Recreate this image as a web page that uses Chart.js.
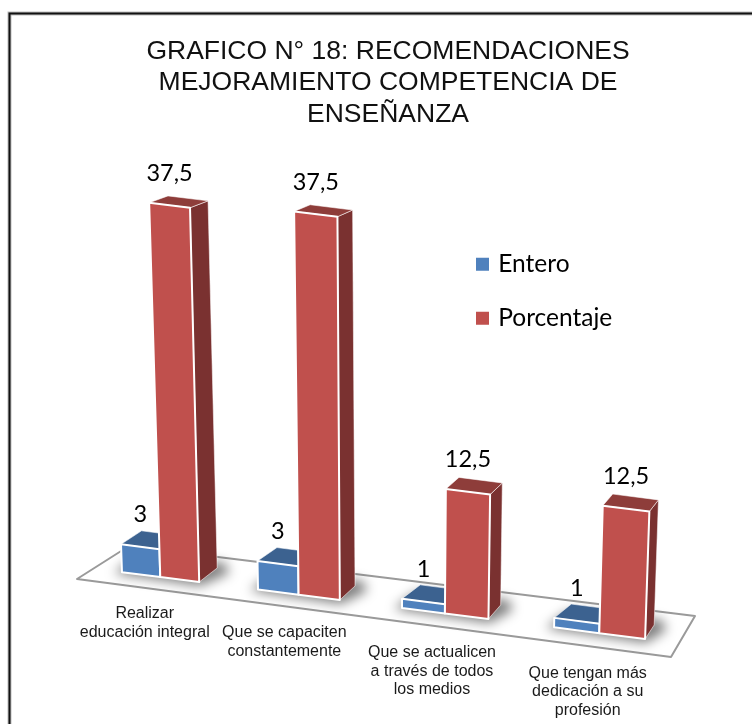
<!DOCTYPE html>
<html><head><meta charset="utf-8">
<style>html,body{margin:0;padding:0;background:#fff;overflow:hidden}#w{position:absolute;left:0;top:0;width:752px;height:724px}</style>
<script src="https://cdn.jsdelivr.net/npm/chart.js@4"></script>
</head><body><div id="w"><canvas id="c"></canvas></div>
<script>
const titleLines = ["GRAFICO N° 18: RECOMENDACIONES","MEJORAMIENTO COMPETENCIA DE","ENSEÑANZA"];
const categories = [["Realizar","educación integral"],["Que se capaciten","constantemente"],["Que se actualicen","a través de todos","los medios"],["Que tengan más","dedicación a su","profesión"]];
const enteroValues = [3,3,1,1];
const porcentajeValues = [37.5,37.5,12.5,12.5];

/* perspective of the slanted floor */
const PERSP = {A:370.75,B:146.33,C:4,Y0:577,X0:160,slope:.1278,units:[9.98,10.22,9.95,10.2],dsScale:[.93,1],leanK:.00013,leanC:388};
const shades = [{front:'#4F81BD',top:'#3C6290',side:'#335580'},{front:'#C0504D',top:'#8E3D3A',side:'#7A3130'}];

function warp(chart,x){
  const a=chart.chartArea,w=a.width/4,u=(x-(a.left+a.right)/2)/w;
  return PERSP.A+PERSP.B*u+PERSP.C*u*u;
}
const floorY=X=>PERSP.Y0+PERSP.slope*(X-PERSP.X0);
const P=(X,h)=>({x:X+h*PERSP.leanK*(X-PERSP.leanC),y:floorY(X)-h});
const depth=(ds,X,h)=>({x:ds?22-.02*X:21.5-.008*X,y:-14+.019*h});
const add=(p,d)=>({x:p.x+d.x,y:p.y+d.y});
function poly(ctx,pts){ctx.beginPath();pts.forEach((p,i)=>i?ctx.lineTo(p.x,p.y):ctx.moveTo(p.x,p.y));ctx.closePath();}
function geom(chart,ds,i){
  const el=chart.getDatasetMeta(ds).data[i];
  const yScale=chart.scales.y,k=PERSP.units[i]*PERSP.dsScale[ds]/((yScale.bottom-yScale.top)/yScale.max);
  const xl=warp(chart,el.x-el.width/2),xr=warp(chart,el.x+el.width/2),h=(el.base-el.y)*k;
  return {xl,xr,h};
}
const scene={
  id:'scene',
  beforeDraw(chart){
    const ctx=chart.ctx;
    ctx.save();
    ctx.strokeStyle='#bdbdbd';ctx.lineWidth=4;
    ctx.beginPath();ctx.moveTo(9.5,724);ctx.lineTo(9.5,13.5);ctx.lineTo(752,13.5);ctx.stroke();
    ctx.strokeStyle='#111';ctx.lineWidth=2;
    ctx.beginPath();ctx.moveTo(9.5,724);ctx.lineTo(9.5,13.5);ctx.lineTo(752,13.5);ctx.stroke();
    ctx.restore();
    /* slanted category labels, still the axis' own tick items */
    const sc=chart.scales.x;
    sc._computeLabelArea=()=>undefined;
    sc.getLabelItems(chart.chartArea).forEach((it,i)=>{
      const c=warp(chart,sc.getPixelForTick(i));
      const cX=c-15.5+.009*(c-160);
      it.options.translation=[cX,floorY(cX)+39+.006*(cX-145)];
      it.options.textBaseline='middle';it.options.textAlign='center';
      it.textOffset=0;
    });
  },
  afterLayout(chart){
    const l=chart.legend;l.left=449.5;l.top=222.5;l.right=752;l.bottom=724;
  },
  beforeDatasetsDraw(chart){
    const ctx=chart.ctx;
    ctx.save();
    poly(ctx,[{x:77,y:579},{x:671,y:657},{x:695,y:616},{x:129,y:546}]);
    ctx.fillStyle='#fff';ctx.fill();ctx.strokeStyle='#9A9A9A';ctx.lineWidth=2;ctx.lineJoin='round';ctx.stroke();
    ctx.filter='blur(6px)';ctx.fillStyle='rgba(0,0,0,.5)';
    categories.forEach((_,i)=>{
      const b=geom(chart,0,i),r=geom(chart,1,i);
      const d=depth(1,r.xr,0);
      const fl=P(b.xl,0),fr=P(r.xr,0),br=add(fr,d);
      poly(ctx,[{x:fl.x-8,y:fl.y+1},{x:fr.x+1,y:fr.y+4},{x:br.x+12,y:br.y+5},{x:br.x+8,y:br.y-5},{x:fl.x+14,y:fl.y-16}]);
      ctx.fill();
    });
    ctx.restore();
  },
  beforeDatasetDraw(){return false;},
  afterDatasetsDraw(chart){
    const ctx=chart.ctx;
    ctx.save();ctx.lineJoin='round';
    categories.forEach((_,i)=>{
      [0,1].forEach(ds=>{
        const {xl,xr,h}=geom(chart,ds,i),c=shades[ds];
        const d0=depth(ds,xr,0),dh=depth(ds,xr,h),dl=depth(ds,xl,h);
        const a=P(xl,0),b=P(xr,0),t=P(xr,h),s=P(xl,h);
        poly(ctx,[b,add(b,d0),add(t,dh),t]);ctx.fillStyle=c.side;ctx.fill();
        ctx.strokeStyle='rgba(255,255,255,.55)';ctx.lineWidth=1;ctx.stroke();
        poly(ctx,[s,t,add(t,dh),add(s,dl)]);ctx.fillStyle=c.top;ctx.fill();ctx.stroke();
        poly(ctx,[a,b,t,s]);ctx.fillStyle=c.front;ctx.fill();
        ctx.strokeStyle='#fff';ctx.lineWidth=2;ctx.stroke();
      });
    });
    ctx.restore();
    ctx.save();
    ctx.font='23.5px Lato';ctx.fillStyle='#000';ctx.textAlign='center';ctx.textBaseline='middle';
    chart.data.datasets.forEach((dset,ds)=>dset.data.forEach((v,i)=>{
      const {xl,xr,h}=geom(chart,ds,i),s=P(xl,h),t=P(xr,h);
      ctx.fillText(String(v).replace('.',','),(s.x+t.x)/2,(s.y+t.y)/2-32);
    }));
    ctx.restore();
  }
};
new Chart(document.getElementById('c'),{
  type:'bar',
  data:{labels:categories,datasets:[
    {label:'Entero',data:enteroValues,backgroundColor:'#4F81BD',borderColor:'#4F81BD',borderWidth:6},
    {label:'Porcentaje',data:porcentajeValues,backgroundColor:'#C0504D',borderColor:'#C0504D',borderWidth:6}
  ]},
  options:{
    responsive:true,maintainAspectRatio:false,animation:false,
    layout:{padding:{left:24,right:0,top:0,bottom:100}},
    categoryPercentage:.575,barPercentage:1,
    scales:{
      x:{grid:{display:false},border:{display:false},
         ticks:{autoSkip:false,maxRotation:0,minRotation:0,color:'#1a1a1a',padding:4,font:{family:'"Liberation Sans"',size:16,lineHeight:1.17}}},
      y:{display:false,min:0,max:40,grid:{display:false}}
    },
    plugins:{
      title:{display:true,text:titleLines,color:'#111',padding:{top:35.5,bottom:6.5},font:{family:'"Liberation Sans"',size:26.5,weight:'normal',lineHeight:1.19}},
      legend:{position:'chartArea',align:'start',labels:{boxWidth:7,boxHeight:7,padding:29.5,color:'#000',font:{family:'Lato',size:24.5}}},
      tooltip:{enabled:false}
    }
  },
  plugins:[scene]
});
</script></body></html>
